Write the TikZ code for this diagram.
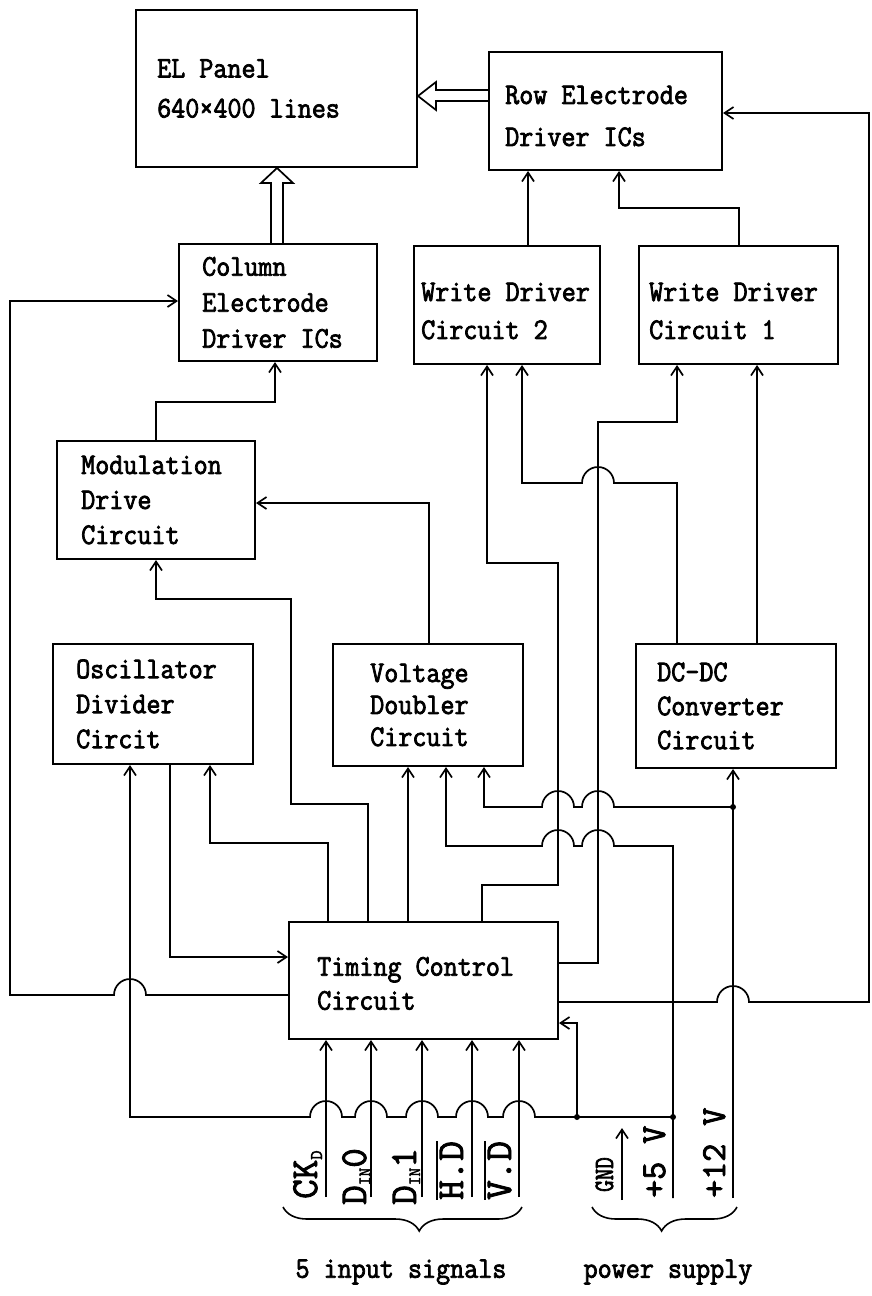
\documentclass[tikz,border=0pt]{standalone}
\usepackage{fontspec}
\usetikzlibrary{arrows.meta,decorations.pathreplacing,calc}
\newfontfamily\tf[FakeStretch=0.91,FakeBold=2.5]{Latin Modern Mono}
\newfontfamily\lf[FakeBold=2.5]{Latin Modern Mono}
\newfontfamily\gf[FakeStretch=0.8,FakeBold=2.5]{Latin Modern Mono}
\def\myovl#1{\vbox{\hrule height 1.6pt\kern 2pt\hbox{#1}}}
\begin{document}
\begin{tikzpicture}[x=1pt,y=-1pt,
  box/.style={draw,line width=2pt,inner sep=0pt,anchor=north west},
  txt/.style={inner sep=0pt,align=left,anchor=west,font={\tf\fontsize{30}{#1}\selectfont}},
  txt/.default=35,
  wire/.style={line width=1.7pt},
  arr/.style={wire,-{Straight Barb[length=9pt,width=12pt]}},
  rarr/.style={wire,{Straight Barb[length=9pt,width=12pt]}-},
  lab/.style={inner sep=0pt,rotate=90,anchor=base west,font={\lf\fontsize{38}{38}\selectfont}},
  dot/.style={circle,fill,inner sep=0pt,minimum size=6pt},
  brc/.style={line width=1.6pt,decorate,decoration={brace,mirror,amplitude=24pt,aspect=#1}},
]
\useasboundingbox (0,0) rectangle (871,1296);

% boxes
\node[box,minimum width=281pt,minimum height=157pt] (el) at (135,9) {};
\node[box,minimum width=233pt,minimum height=118pt] (row) at (488,51) {};
\node[box,minimum width=198pt,minimum height=117pt] (col) at (178,243) {};
\node[box,minimum width=186pt,minimum height=118pt] (wdtwo) at (413,245) {};
\node[box,minimum width=199pt,minimum height=118pt] (wdone) at (638,245) {};
\node[box,minimum width=198pt,minimum height=118pt] (mod) at (56,440) {};
\node[box,minimum width=200pt,minimum height=120pt] (osc) at (52,643) {};
\node[box,minimum width=190pt,minimum height=122pt] (vd) at (332,643) {};
\node[box,minimum width=200pt,minimum height=124pt] (dc) at (635,643) {};
\node[box,minimum width=269pt,minimum height=117pt] (tim) at (288,921) {};

% box texts
\node[txt=40] (elT) at ([xshift=22pt]el.west) {EL Panel\\640×400 lines};
\node[txt=42] (rowT) at ([xshift=17pt,yshift=-5pt]row.west) {Row Electrode\\Driver ICs};
\node[txt=36] (colT) at ([xshift=24pt]col.west) {Column\\Electrode\\Driver ICs};
\node[txt=38] (wdtwoT) at ([xshift=8pt,yshift=-6pt]wdtwo.west) {Write Driver\\Circuit 2};
\node[txt=38] (wdoneT) at ([xshift=11pt,yshift=-6pt]wdone.west) {Write Driver\\Circuit 1};
\node[txt=35] (modT) at ([xshift=25pt]mod.west) {Modulation\\Drive\\Circuit};
\node[txt=35] (oscT) at ([xshift=24pt]osc.west) {Oscillator\\Divider\\Circit};
\node[txt=32] (vdT) at ([xshift=38pt]vd.west) {Voltage\\Doubler\\Circuit};
\node[txt=34] (dcT) at ([xshift=22pt]dc.west) {DC-DC\\Converter\\Circuit};
\node[txt=34] (timT) at ([xshift=29pt,yshift=-3pt]tim.west) {Timing Control\\Circuit};

% hollow arrows
\draw[wire] (row.west |- 0,90) -- (436,90) -- (436,82) -- (el.east |- 0,96) -- (436,110) -- (436,101) -- (row.west |- 0,101);
\draw[wire] (271,0 |- col.north) -- (271,183) -- (261,183) -- (277,0 |- el.south) -- (293,183) -- (283,183) -- (283,0 |- col.north);

% junction coordinates
\coordinate (p5) at (673,1117);
\coordinate (pg) at (577,1117);
\coordinate (j12) at (733,807);
\coordinate (v5) at (673,1198);
\coordinate (v12) at (733,1198);
\coordinate (in1) at (326,1197);
\coordinate (in2) at (371,1197);
\coordinate (in3) at (422,1197);
\coordinate (in4) at (472,1197);
\coordinate (in5) at (519,1197);
\coordinate (gA) at (622,1200);
\coordinate (gB) at (622,1128);

% Timing -> Row electrode
\draw[arr] (tim.east |- 0,1002) -- (717,1002) arc[start angle=180,end angle=0,radius=16pt] -- (869,1002) -- (869,113) -- (row.east |- 0,113);
% Write drivers -> Row
\draw[arr] (528,0 |- wdtwo.north) -- (528,0 |- row.south);
\draw[arr] (739,0 |- wdone.north) -- (739,208) -- (619,208) -- (619,0 |- row.south);
% Timing -> Column
\draw[arr] (tim.west |- 0,995) -- (146,995) arc[start angle=0,end angle=180,radius=16pt] -- (10,995) -- (10,301) -- (col.west |- 0,301);
% Mod -> Column
\draw[arr] (156,0 |- mod.north) -- (156,402) -- (275,402) -- (275,0 |- col.south);
% VD -> Mod
\draw[arr] (429,0 |- vd.north) -- (429,503) -- (mod.east |- 0,503);
% Timing -> Mod
\draw[arr] (368,0 |- tim.north) -- (368,804) -- (291,804) -- (291,599) -- (156,599) -- (156,0 |- mod.south);
% Timing -> Osc
\draw[arr] (328,0 |- tim.north) -- (328,843) -- (210,843) -- (210,0 |- osc.south);
% Osc -> Timing
\draw[arr] (170,0 |- osc.south) -- (170,957) -- (tim.west |- 0,957);
% +5V -> Osc (bottom row)
\draw[rarr] (130,0 |- osc.south) -- (130,1117)
  -- (310,1117) arc[start angle=180,end angle=0,radius=16pt]
  -- (355,1117) arc[start angle=180,end angle=0,radius=16pt]
  -- (406,1117) arc[start angle=180,end angle=0,radius=16pt]
  -- (456,1117) arc[start angle=180,end angle=0,radius=16pt]
  -- (503,1117) arc[start angle=180,end angle=0,radius=16pt]
  -- (p5);
% Timing -> VD
\draw[arr] (408,0 |- tim.north) -- (408,0 |- vd.south);
% +5V -> VD
\draw[rarr] (446,0 |- vd.south) -- (446,846)
  -- (542,846) arc[start angle=180,end angle=0,radius=16pt]
  -- (582,846) arc[start angle=180,end angle=0,radius=16pt]
  -- (673,846) -- (v5);
% +12V -> VD
\draw[rarr] (484,0 |- vd.south) -- (484,807)
  -- (542,807) arc[start angle=180,end angle=0,radius=16pt]
  -- (582,807) arc[start angle=180,end angle=0,radius=16pt]
  -- (j12);
% +12V -> DC-DC
\draw[arr] (v12) -- (733,0 |- dc.south);
% DC-DC -> WD2
\draw[arr] (677,0 |- dc.north) -- (677,483) -- (614,483) arc[start angle=0,end angle=180,radius=16pt] -- (522,483) -- (522,0 |- wdtwo.south);
% DC-DC -> WD1
\draw[arr] (757,0 |- dc.north) -- (757,0 |- wdone.south);
% Timing -> WD1
\draw[arr] (tim.east |- 0,963) -- (598,963) -- (598,422) -- (677,422) -- (677,0 |- wdone.south);
% Timing -> WD2
\draw[arr] (482,0 |- tim.north) -- (482,885) -- (558,885) -- (558,563) -- (487,563) -- (487,0 |- wdtwo.south);
% GND -> Timing
\draw[arr] (pg) -- (577,1023) -- (tim.east |- 0,1023);
% inputs
\draw[arr] (in1) -- (in1 |- tim.south);
\draw[arr] (in2) -- (in2 |- tim.south);
\draw[arr] (in3) -- (in3 |- tim.south);
\draw[arr] (in4) -- (in4 |- tim.south);
\draw[arr] (in5) -- (in5 |- tim.south);
\draw[arr] (gA) -- (gB);

% dots
\node[dot] (d1) at (p5) {};
\node[dot] (d2) at (pg) {};
\node[dot] (d3) at (j12) {};

% rotated labels
\node[lab] (lck) at (317,1199) {CK\raisebox{-5pt}{\fontsize{18}{18}\selectfont D}};
\node[lab] (ldz) at (366,1205) {D\raisebox{-4pt}{\fontsize{17}{17}\selectfont IN}0};
\node[lab] (ldo) at (416,1205) {D\raisebox{-4pt}{\fontsize{17}{17}\selectfont IN}1};
\node[lab] (lhd) at (463,1200) {\myovl{H.D}};
\node[lab] (lvd) at (511,1200) {\myovl{V.D}};
\node[lab,font={\gf\fontsize{28}{28}\selectfont}] (lgnd) at (613,1192) {GND};
\node[lab,font={\lf\fontsize{35}{35}\selectfont}] (lfive) at (665,1198) {+5 V};
\node[lab,font={\lf\fontsize{35}{35}\selectfont}] (ltwelve) at (725,1198) {+12 V};

% braces
\draw[brc=0.57] (283,1207) -- (522,1207);
\draw[brc=0.48] (592,1207) -- (737,1207);

% bottom texts
\node[txt,anchor=center] (tin) at (401,1272) {5 input signals};
\node[txt,anchor=center] (tps) at (668,1272) {power supply};
\end{tikzpicture}
\end{document}
